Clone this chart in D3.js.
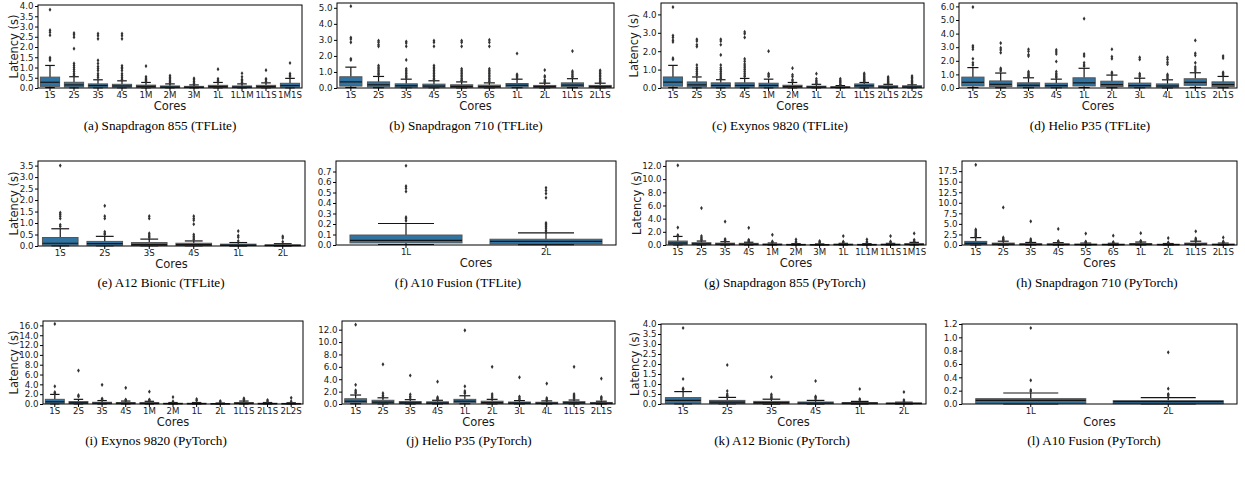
<!DOCTYPE html>
<html>
<head>
<meta charset="utf-8">
<script src="https://cdn.jsdelivr.net/npm/d3@7"></script>
<style>
  body { margin: 0; background: #fff; }
</style>
</head>
<body>
<div id="chart"></div>
<script>
const width = 1245;
const height = 478;

// Box stats per core config: [low whisker, q1, median, q3, high whisker]; fliers listed separately
const coresA = ["1S","2S","3S","4S","1M","2M","3M","1L","1L1M","1L1S","1M1S"];
const statsA = [[0.02,0.08,0.28,0.53,1.10],[0.01,0.05,0.15,0.28,0.55],[0.01,0.04,0.12,0.20,0.40],[0.01,0.04,0.10,0.18,0.35],
  [0.01,0.03,0.08,0.14,0.27],[0.01,0.02,0.05,0.10,0.20],[0.01,0.02,0.04,0.08,0.15],[0.01,0.03,0.07,0.13,0.27],
  [0.01,0.02,0.05,0.10,0.20],[0.01,0.03,0.07,0.13,0.25],[0.01,0.04,0.12,0.23,0.47]];
const fliersA = [[3.82,2.82,2.72,2.58,1.48,1.42,1.35],[2.68,2.60,2.48,1.92,1.20,1.10,1.00,0.90,0.80,0.70,0.62],
  [2.65,2.55,2.40,1.35,1.20,1.05,0.95,0.85,0.70,0.60,0.50],[2.65,2.55,2.40,1.08,1.00,0.95,0.85,0.70,0.60,0.50,0.42],
  [1.07,0.55,0.48,0.42,0.36,0.32],[0.60,0.52,0.45,0.38,0.30,0.25],[0.47,0.40,0.32,0.25,0.20],[0.92,0.45,0.38,0.33],
  [0.72,0.55,0.42,0.35,0.28,0.24],[0.87,0.45,0.40,0.32],[1.22,0.70,0.62,0.55]];
const ticksA = [0,0.5,1,1.5,2,2.5,3,3.5,4];

const coresB = ["1S","2S","3S","4S","5S","6S","1L","2L","1L1S","2L1S"];
const statsB = [[0.03,0.12,0.38,0.70,1.30],[0.02,0.07,0.20,0.38,0.72],[0.02,0.05,0.14,0.26,0.55],[0.02,0.05,0.12,0.24,0.45],
  [0.01,0.04,0.10,0.20,0.38],[0.01,0.04,0.09,0.18,0.32],[0.02,0.07,0.17,0.28,0.55],[0.01,0.04,0.09,0.16,0.30],
  [0.02,0.08,0.18,0.32,0.58],[0.01,0.04,0.09,0.16,0.30]];
const fliersB = [[5.10,3.15,3.05,2.85,1.82,1.75],[2.95,2.85,2.70,2.60,1.40,1.30,1.20,1.10,1.00,0.90,0.82],
  [2.90,2.80,2.60,1.75,1.20,1.10,1.00,0.90,0.80,0.70,0.62],[2.95,2.85,2.60,1.40,1.30,1.20,1.10,1.00,0.90,0.80,0.70,0.60,0.52],
  [2.95,2.85,2.60,1.20,1.10,1.00,0.90,0.80,0.70,0.60,0.50,0.45],[3.00,2.85,2.60,1.20,1.10,1.00,0.90,0.80,0.70,0.60,0.50,0.40],
  [2.15,0.85,0.78,0.70,0.62],[1.12,0.75,0.68,0.50,0.42,0.36],[2.30,1.05,0.95,0.85,0.75,0.68],
  [1.10,1.00,0.90,0.80,0.70,0.60,0.50,0.42,0.36]];
const ticksB = [0,1,2,3,4,5];

const coresC = ["1S","2S","3S","4S","1M","2M","1L","2L","1L1S","2L1S","2L2S"];
const statsC = [[0.02,0.10,0.32,0.60,1.23],[0.01,0.06,0.17,0.33,0.60],[0.01,0.05,0.14,0.28,0.45],[0.01,0.05,0.14,0.28,0.52],
  [0.01,0.05,0.14,0.26,0.48],[0.01,0.03,0.08,0.15,0.30],[0.01,0.03,0.06,0.10,0.20],[0.01,0.02,0.04,0.07,0.13],
  [0.01,0.05,0.12,0.22,0.30],[0.01,0.03,0.06,0.12,0.20],[0.01,0.03,0.06,0.12,0.17]];
const fliersC = [[4.40,2.85,2.75,2.60,2.50,1.62,1.55],[2.65,2.55,2.35,2.25,1.25,1.10,1.00,0.90,0.80,0.70],
  [2.65,2.55,2.35,1.80,1.25,1.10,1.00,0.90,0.80,0.70,0.60,0.52],[3.05,2.95,2.75,1.58,1.45,1.30,1.20,1.10,1.00,0.90,0.80,0.70,0.62],
  [2.00,0.78,0.70,0.62],[1.08,0.72,0.62,0.45,0.38],[0.78,0.50,0.40,0.32,0.25],[0.50,0.42,0.35,0.28,0.20,0.16],
  [0.80,0.72,0.65,0.58,0.50,0.45,0.40,0.35],[0.60,0.55,0.48,0.42,0.35,0.30,0.25],[0.65,0.58,0.50,0.42,0.35,0.28,0.22]];
const ticksC = [0,1,2,3,4];

const coresD = ["1S","2S","3S","4S","1L","2L","3L","4L","1L1S","2L1S"];
const statsD = [[0.03,0.15,0.42,0.80,1.50],[0.02,0.10,0.27,0.52,1.10],[0.02,0.08,0.20,0.38,0.75],[0.02,0.07,0.18,0.35,0.65],
  [0.03,0.15,0.38,0.75,1.45],[0.02,0.10,0.25,0.50,0.95],[0.02,0.07,0.18,0.36,0.72],[0.01,0.06,0.15,0.30,0.60],
  [0.04,0.20,0.42,0.68,1.12],[0.02,0.10,0.25,0.45,0.85]];
const fliersD = [[5.95,3.10,3.00,2.85,2.15,1.85,1.70],[3.30,2.95,2.80,2.60,1.45,1.35,1.25],
  [2.85,2.70,2.45,2.35,1.20,1.10,1.00,0.90,0.82],[2.80,2.65,2.50,1.95,1.20,1.05,0.95,0.85,0.75],
  [5.10,2.50,2.35,1.85,1.70,1.60],[2.85,2.30,2.15,1.15,1.05],[2.25,2.10,1.05,0.95,0.85],
  [2.25,2.10,1.90,1.75,1.00,0.90,0.80,0.70],[3.50,2.55,2.40,1.85,1.55,1.40,1.25],[2.35,2.20,1.15,1.05,0.95]];
const ticksD = [0,1,2,3,4,5,6];

const coresE = ["1S","2S","3S","4S","1L","2L"];
const statsE = [[0.01,0.04,0.12,0.37,0.75],[0.01,0.03,0.10,0.20,0.42],[0.01,0.02,0.06,0.15,0.30],
  [0.01,0.02,0.06,0.12,0.22],[0.00,0.02,0.04,0.08,0.15],[0.00,0.01,0.03,0.05,0.10]];
const fliersE = [[3.50,1.45,1.38,1.30,1.20,0.92,0.85],[1.75,1.30,1.20,0.62,0.55,0.50],[1.30,1.20,0.55,0.48,0.42,0.36],
  [1.30,1.20,1.12,0.95,0.50,0.42,0.35,0.28],[0.65,0.45,0.38,0.22],[0.42,0.35,0.18]];
const ticksE = [0,0.5,1,1.5,2,2.5,3,3.5];

const coresF = ["1L","2L"];
const statsF = [[0.005,0.02,0.045,0.095,0.205],[0.003,0.01,0.035,0.055,0.115]];
const fliersF = [[0.755,0.56,0.54,0.51,0.265,0.25,0.23],[0.545,0.52,0.49,0.45,0.21,0.20,0.19,0.175,0.16,0.14,0.125]];
const ticksF = [0,0.1,0.2,0.3,0.4,0.5,0.6,0.7];

const coresG = ["1S","2S","3S","4S","1M","2M","3M","1L","1L1M","1L1S","1M1S"];
const statsG = [[0.02,0.10,0.30,0.60,1.30],[0.02,0.06,0.18,0.35,0.60],[0.01,0.05,0.14,0.28,0.50],[0.01,0.05,0.12,0.25,0.42],
  [0.01,0.03,0.08,0.15,0.30],[0.01,0.02,0.05,0.10,0.20],[0.01,0.02,0.04,0.08,0.16],[0.01,0.03,0.07,0.13,0.25],
  [0.01,0.02,0.05,0.10,0.20],[0.01,0.03,0.07,0.13,0.25],[0.01,0.04,0.10,0.20,0.40]];
const fliersG = [[12.10,2.65,1.50,1.40],[5.60,1.35,1.10,0.90,0.75],[3.55,0.90,0.75,0.62],[2.60,0.80,0.65,0.55],
  [1.55,0.55,0.42],[0.85,0.50,0.35],[0.60,0.45,0.30],[1.35,0.50,0.40],[0.85,0.50,0.35],[1.35,0.55,0.42],[1.75,0.80,0.60,0.50]];
const ticksG = [0,2,4,6,8,10,12];

const coresH = ["1S","2S","3S","4S","5S","6S","1L","2L","1L1S","2L1S"];
const statsH = [[0.03,0.15,0.40,0.85,1.75],[0.02,0.08,0.22,0.45,0.90],[0.02,0.06,0.15,0.30,0.60],[0.01,0.05,0.13,0.28,0.55],
  [0.01,0.05,0.11,0.22,0.45],[0.01,0.05,0.10,0.20,0.40],[0.02,0.08,0.18,0.35,0.70],[0.01,0.04,0.09,0.18,0.35],
  [0.02,0.10,0.22,0.45,0.90],[0.01,0.05,0.11,0.22,0.45]];
const fliersH = [[19.0,3.70,3.40,3.10,2.80,2.50,2.20,2.00],[8.90,1.80,1.50,1.30,1.10],[5.60,1.40,1.15,0.90,0.75],
  [3.80,0.95,0.80,0.68],[2.70,0.80,0.65,0.55],[2.20,0.70,0.55],[2.80,1.00,0.85],[1.65,0.60,0.45],
  [3.25,1.60,1.30,1.10],[1.80,0.85,0.65,0.55]];
const ticksH = [0,2.5,5,7.5,10,12.5,15,17.5];

const coresI = ["1S","2S","3S","4S","1M","2M","1L","2L","1L1S","2L1S","2L2S"];
const statsI = [[0.03,0.15,0.45,0.95,1.95],[0.02,0.10,0.25,0.50,0.95],[0.02,0.07,0.18,0.35,0.70],[0.01,0.06,0.15,0.30,0.60],
  [0.01,0.05,0.14,0.28,0.55],[0.01,0.03,0.08,0.15,0.30],[0.01,0.03,0.07,0.15,0.30],[0.01,0.02,0.05,0.10,0.20],
  [0.01,0.06,0.15,0.30,0.60],[0.01,0.03,0.07,0.15,0.30],[0.01,0.03,0.06,0.12,0.25]];
const fliersI = [[16.3,3.60,2.40,2.20],[6.80,1.80,1.55],[3.90,1.10,0.90],[3.30,0.90,0.75],[2.50,0.90,0.75],
  [1.40,0.55],[1.00,0.70],[0.60,0.40],[1.15,0.95,0.80],[0.80,0.55],[1.25,0.55]];
const ticksI = [0,2,4,6,8,10,12,14,16];

const coresJ = ["1S","2S","3S","4S","1L","2L","3L","4L","1L1S","2L1S"];
const statsJ = [[0.04,0.20,0.45,0.85,1.45],[0.03,0.12,0.30,0.60,1.00],[0.02,0.08,0.20,0.40,0.70],[0.02,0.07,0.17,0.35,0.60],
  [0.04,0.20,0.45,0.75,1.33],[0.02,0.10,0.22,0.45,0.75],[0.02,0.07,0.16,0.32,0.55],[0.01,0.06,0.14,0.28,0.50],
  [0.02,0.10,0.20,0.38,0.64],[0.01,0.06,0.13,0.25,0.45]];
const fliersJ = [[12.8,3.10,2.20,1.95,1.75],[6.40,1.75,1.40,1.15],[4.60,1.55,1.20,0.95],[3.60,1.10,0.90,0.75],
  [11.9,2.85,2.10,1.90,1.70],[6.00,1.60,1.30,1.00],[4.30,1.20,0.95,0.75],[3.30,0.95,0.75,0.60],
  [6.00,1.60,1.40,1.20,1.00,0.85],[4.10,1.15,0.95,0.75]];
const ticksJ = [0,2,4,6,8,10,12];

const coresK = ["1S","2S","3S","4S","1L","2L"];
const statsK = [[0.01,0.04,0.18,0.32,0.62],[0.01,0.03,0.09,0.18,0.33],[0.00,0.02,0.07,0.13,0.24],
  [0.00,0.02,0.05,0.10,0.18],[0.00,0.01,0.04,0.07,0.13],[0.00,0.01,0.03,0.05,0.09]];
const fliersK = [[3.80,1.25,0.78,0.72],[1.95,0.65,0.50,0.42,0.38],[1.35,0.48,0.40,0.33,0.28],[1.15,0.38,0.32,0.25],
  [0.75,0.25,0.20],[0.60,0.20,0.14]];
const ticksK = [0,0.5,1,1.5,2,2.5,3,3.5,4];

const coresL = ["1L","2L"];
const statsL = [[0.003,0.01,0.055,0.08,0.165],[0.002,0.005,0.035,0.05,0.095]];
const fliersL = [[1.14,0.355,0.21,0.19],[0.775,0.23,0.15,0.14,0.12]];
const ticksL = [0,0.2,0.4,0.6,0.8,1.0,1.2];

// Layout of each subplot (pixel frame, y-limit, captions)
const panels = [
  {cores: coresA, stats: statsA, fliers: fliersA, ticks: ticksA, ymax: 4.05, x0: 38, x1: 302, y0: 5, y1: 88, ylab: 14, cap: "(a) Snapdragon 855 (TFLite)", capX: 160, capY: 130},
  {cores: coresB, stats: statsB, fliers: fliersB, ticks: ticksB, ymax: 5.3, x0: 337, x1: 614, y0: 3, y1: 88, ylab: null, cap: "(b) Snapdragon 710 (TFLite)", capX: 466, capY: 130},
  {cores: coresC, stats: statsC, fliers: fliersC, ticks: ticksC, ymax: 4.62, x0: 661, x1: 924, y0: 3, y1: 88, ylab: 634, cap: "(c) Exynos 9820 (TFLite)", capX: 780, capY: 130},
  {cores: coresD, stats: statsD, fliers: fliersD, ticks: ticksD, ymax: 6.25, x0: 959, x1: 1237, y0: 3, y1: 88, ylab: null, cap: "(d) Helio P35 (TFLite)", capX: 1090, capY: 130},
  {cores: coresE, stats: statsE, fliers: fliersE, ticks: ticksE, ymax: 3.7, x0: 38, x1: 305, y0: 161, y1: 246, ylab: 14, cap: "(e) A12 Bionic (TFLite)", capX: 161, capY: 287},
  {cores: coresF, stats: statsF, fliers: fliersF, ticks: ticksF, ymax: 0.8, x0: 336, x1: 616, y0: 161, y1: 245, ylab: null, cap: "(f) A10 Fusion (TFLite)", capX: 458, capY: 287},
  {cores: coresG, stats: statsG, fliers: fliersG, ticks: ticksG, ymax: 12.75, x0: 666, x1: 926, y0: 161, y1: 245, ylab: 637, cap: "(g) Snapdragon 855 (PyTorch)", capX: 785, capY: 287},
  {cores: coresH, stats: statsH, fliers: fliersH, ticks: ticksH, ymax: 19.9, x0: 962, x1: 1237, y0: 161, y1: 245, ylab: null, cap: "(h) Snapdragon 710 (PyTorch)", capX: 1097, capY: 287},
  {cores: coresI, stats: statsI, fliers: fliersI, ticks: ticksI, ymax: 16.9, x0: 43, x1: 303, y0: 321, y1: 404, ylab: 13.5, cap: "(i) Exynos 9820 (PyTorch)", capX: 156, capY: 445},
  {cores: coresJ, stats: statsJ, fliers: fliersJ, ticks: ticksJ, ymax: 13.4, x0: 342, x1: 615, y0: 321, y1: 404, ylab: null, cap: "(j) Helio P35 (PyTorch)", capX: 469, capY: 445},
  {cores: coresK, stats: statsK, fliers: fliersK, ticks: ticksK, ymax: 4.0, x0: 661, x1: 926, y0: 324, y1: 404, ylab: 635, cap: "(k) A12 Bionic (PyTorch)", capX: 782, capY: 445},
  {cores: coresL, stats: statsL, fliers: fliersL, ticks: ticksL, ymax: 1.2, x0: 962, x1: 1237, y0: 324, y1: 404, ylab: null, cap: "(l) A10 Fusion (PyTorch)", capX: 1094, capY: 445}
];

const boxFill = "#3274a1";
const lineColor = "#151515";

const svg = d3.select("#chart")
    .append("svg")
        .attr("width", width)
        .attr("height", height);

const diamond = "M0,-2.1L1.4,0L0,2.1L-1.4,0Z";

panels.forEach(p => {
    const g = svg.append("g");
    const x = d3.scaleBand().domain(p.cores).range([p.x0, p.x1]);
    const y = d3.scaleLinear().domain([0, p.ymax]).range([p.y1, p.y0]);
    const bw = x.bandwidth() * 0.8;
    const cw = bw * 0.5;

    const rows = p.cores.map((c, i) => ({core: c, s: p.stats[i], f: p.fliers[i]}));
    const box = g.append("g")
        .selectAll("g")
        .data(rows)
        .join("g")
            .attr("transform", d => `translate(${x(d.core) + x.bandwidth() / 2},0)`);

    // whiskers
    box.append("line")
        .attr("y1", d => y(d.s[3])).attr("y2", d => y(d.s[4]))
        .attr("stroke", lineColor).attr("stroke-width", 1.2);
    box.append("line")
        .attr("y1", d => y(d.s[0])).attr("y2", d => y(d.s[1]))
        .attr("stroke", lineColor).attr("stroke-width", 1.2);
    // caps
    box.append("line")
        .attr("x1", -cw / 2).attr("x2", cw / 2)
        .attr("y1", d => y(d.s[4])).attr("y2", d => y(d.s[4]))
        .attr("stroke", lineColor).attr("stroke-width", 1.2);
    box.append("line")
        .attr("x1", -cw / 2).attr("x2", cw / 2)
        .attr("y1", d => y(d.s[0])).attr("y2", d => y(d.s[0]))
        .attr("stroke", lineColor).attr("stroke-width", 1.2);
    // box
    box.append("rect")
        .attr("x", -bw / 2)
        .attr("width", bw)
        .attr("y", d => y(d.s[3]))
        .attr("height", d => Math.max(0.5, y(d.s[1]) - y(d.s[3])))
        .attr("fill", boxFill)
        .attr("stroke", "#555")
        .attr("stroke-width", 1);
    // median
    box.append("line")
        .attr("x1", -bw / 2).attr("x2", bw / 2)
        .attr("y1", d => y(d.s[2])).attr("y2", d => y(d.s[2]))
        .attr("stroke", lineColor).attr("stroke-width", 1.2);
    // fliers
    box.selectAll("path")
        .data(d => d.f)
        .join("path")
            .attr("d", diamond)
            .attr("transform", v => `translate(0,${y(v)})`)
            .attr("fill", "#333");

    // axes
    const xa = g.append("g")
        .attr("transform", `translate(0,${p.y1})`)
        .call(d3.axisBottom(x).tickSize(3).tickPadding(1));
    xa.select(".domain").remove();
    xa.selectAll("text").style("font-size", "8.6px").style("fill", "#1a1a1a").style("font-family", "DejaVu Sans");

    const ya = g.append("g")
        .attr("transform", `translate(${p.x0},0)`)
        .call(d3.axisLeft(y).tickValues(p.ticks).tickFormat(d3.format(".1f")).tickSize(3).tickPadding(1.5));
    ya.select(".domain").remove();
    ya.selectAll("text").style("font-size", "8.7px").style("fill", "#1a1a1a").style("font-family", "DejaVu Sans");

    // frame
    g.append("rect")
        .attr("x", p.x0).attr("y", p.y0)
        .attr("width", p.x1 - p.x0).attr("height", p.y1 - p.y0)
        .attr("fill", "none").attr("stroke", "#000").attr("stroke-width", 1);

    g.append("text")
        .attr("x", (p.x0 + p.x1) / 2).attr("y", p.y1 + 22)
        .attr("text-anchor", "middle")
        .style("font-family", "DejaVu Sans")
        .style("font-size", "11.5px").style("fill", "#1a1a1a")
        .text("Cores");

    if (p.ylab !== null) {
        g.append("text")
            .attr("transform", `translate(${p.ylab},${(p.y0 + p.y1) / 2}) rotate(-90)`)
            .attr("text-anchor", "middle")
            .attr("dy", "0.35em")
            .style("font-family", "DejaVu Sans")
            .style("font-size", "11.5px").style("fill", "#1a1a1a")
            .text("Latency (s)");
    }

    g.append("text")
        .attr("x", p.capX).attr("y", p.capY)
        .attr("text-anchor", "middle")
        .style("font-family", "'Liberation Serif', 'DejaVu Serif', serif")
        .style("font-size", "13.2px").style("fill", "#000")
        .text(p.cap);
});
</script>
</body>
</html>
